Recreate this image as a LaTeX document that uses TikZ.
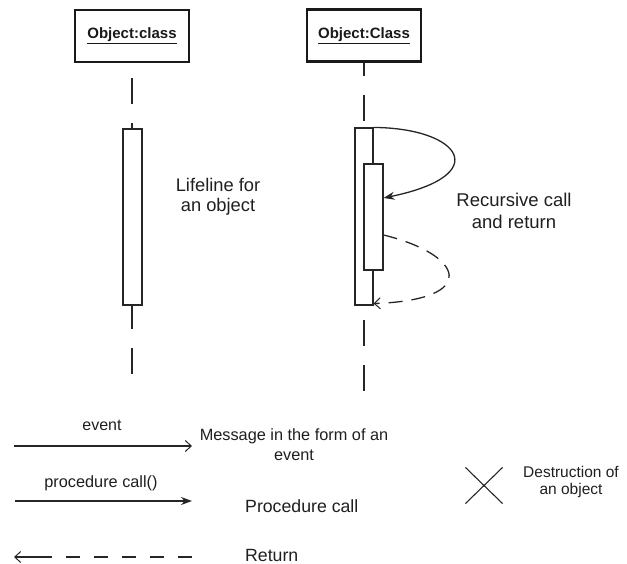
\documentclass[tikz,border=0pt]{standalone}
\usepackage{fontspec}
\setmainfont{Liberation Sans}
\usetikzlibrary{arrows.meta,shapes.misc}
\begin{document}
\begin{tikzpicture}[x=1pt,y=-1pt,
  objbox/.style={draw=black!90, line width=2.4pt, minimum width=114pt,
    minimum height=52pt, inner sep=0pt, text=black!90,
    font=\fontsize{15}{17}\selectfont\bfseries},
  life/.style={draw=black!85, line width=2.6pt, dash pattern=on 26pt off 19pt},
  actbox/.style={draw=black!85, fill=white, line width=1.1pt,
    minimum width=19pt, inner sep=0pt},
  lbl/.style={inner sep=0pt, align=center, text=black!88},
  msg/.style={draw=black!85, line width=1.3pt},
  openhead/.style={-{Straight Barb[length=6pt,width=11pt,line width=1pt]}},
  fullhead/.style={-{Stealth[length=11pt,width=8pt]}},
]
\useasboundingbox (0,0) rectangle (627,564);

% objects
\node[objbox] (objA) at (132,36) {\underline{Object:class}};
\node[objbox] (objB) at (364,35.5) {\underline{Object:Class}};

% lifelines
\draw[life, dash phase=30pt] (objA.south) -- (132,375);
\draw[life, dash phase=13pt] (objB.south) -- (364,392);

% activation bars
\node[actbox, minimum height=176pt] (actA) at (132.5,217) {};
\node[actbox, minimum width=18pt, minimum height=177pt] (actB) at (364,216.5) {};
\node[actbox, minimum height=106pt] (actC) at (373.5,217) {};

% recursive call and its return
\draw[msg, fullhead] (actB.north east)
  .. controls (460,128) and (495,175) .. ([yshift=19pt]actC.east);
\draw[msg, dash pattern=on 14pt off 9pt, openhead] ([yshift=-18pt]actC.east)
  .. controls (465,255) and (480,300) .. ([yshift=2pt]actB.south east);

% labels
\node[lbl, font=\fontsize{18.3}{20}\selectfont] (lifetxt) at (218,197)
  {Lifeline for\\an object};
\node[lbl, font=\fontsize{18.5}{22}\selectfont] (rectxt) at (514,211)
  {Recursive call\\and return};

% legend: event
\node[lbl, font=\fontsize{16}{18}\selectfont] (evlab) at (102,425) {event};
\coordinate (evA) at (14,446);
\coordinate (evB) at (192,446);
\draw[msg, openhead] (evA) -- (evB);
\node[lbl, font=\fontsize{16.3}{20}\selectfont] (evtxt) at (294,445)
  {Message in the form of an\\event};

% legend: procedure call
\node[lbl, font=\fontsize{16.3}{18}\selectfont] (pclab) at (101,483) {procedure call()};
\coordinate (pcA) at (15,501);
\coordinate (pcB) at (192,501);
\draw[draw=black!85, line width=2pt, fullhead] (pcA) -- (pcB);
\node[lbl, anchor=west, font=\fontsize{17.7}{20}\selectfont] (pctxt) at (245,506)
  {Procedure call};

% legend: return
\coordinate (rtA) at (192,557);
\coordinate (rtM) at (50,557);
\coordinate (rtB) at (14,557);
\draw[msg, dash pattern=on 14pt off 14pt] (rtA) -- (rtM);
\draw[msg, openhead] (rtM) -- (rtB);
\node[lbl, anchor=west, font=\fontsize{17.7}{20}\selectfont] (rttxt) at (245,555)
  {Return};

% legend: destruction
\node[cross out, draw=black!85, line width=1.1pt, minimum width=36pt,
  minimum height=35pt, inner sep=0pt] (destr) at (484,485.5) {};
\node[lbl, font=\fontsize{15.5}{16.5}\selectfont] (destxt) at (571,482)
  {Destruction of\\an object};
\end{tikzpicture}
\end{document}
